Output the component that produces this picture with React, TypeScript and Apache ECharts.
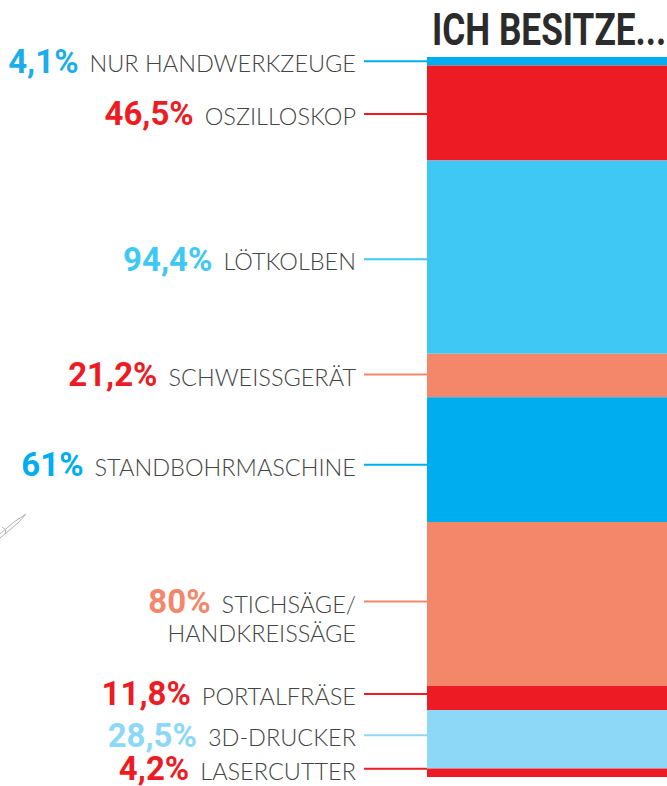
import React, { useEffect, useRef } from "react";
import * as echarts from "echarts";

const categories = [
  "NUR HANDWERKZEUGE",
  "OSZILLOSKOP",
  "LÖTKOLBEN",
  "SCHWEISSGERÄT",
  "STANDBOHRMASCHINE",
  "STICHSÄGE/\nHANDKREISSÄGE",
  "PORTALFRÄSE",
  "3D-DRUCKER",
  "LASERCUTTER",
];
const values = [4.1, 46.5, 94.4, 21.2, 61, 80, 11.8, 28.5, 4.2];
const valueLabels = ["4,1%", "46,5%", "94,4%", "21,2%", "61%", "80%", "11,8%", "28,5%", "4,2%"];
const barColors = ["#00AEEF", "#ED1C24", "#40C8F4", "#F4876A", "#00AEEF", "#F4876A", "#ED1C24", "#8DD7F7", "#ED1C24"];
const pctColors = ["#1BAEEA", "#ED1C24", "#40C8F4", "#ED1C24", "#00AEEF", "#F4876A", "#ED1C24", "#8DD7F7", "#ED1C24"];
const labelShift = [0, 1, 2, -1, 5, 15, -4, -4, -4];

const PCT_FONT = 'Roboto, sans-serif';
const TXT_FONT = 'Lato, Roboto, sans-serif';

export default function App() {
  const ref = useRef<HTMLDivElement>(null);
  useEffect(() => {
    if (!ref.current) return;
    const chart = echarts.init(ref.current, null, { renderer: "svg" });
    const total = values.reduce((a, b) => a + b, 0);
    const series = values.map((v, i) => {
      const lines = categories[i].split("\n");
      const first = `{p|${valueLabels[i]}}{s|}{t|${lines[0]}}{g|}{l|}`;
      const rest = lines.slice(1).map((ln) => `{t2|${ln}}{g|}{e|}`);
      return {
        type: "bar",
        name: categories[i],
        stack: "all",
        barWidth: "100%",
        barCategoryGap: 0,
        itemStyle: { color: barColors[i] },
        data: [v],
        label: {
          show: true,
          position: "left",
          distance: 0,
          offset: [0, labelShift[i]],
          formatter: [first, ...rest].join("\n"),
          rich: {
            p: {
              fontFamily: PCT_FONT,
              fontWeight: "bold",
              fontSize: 33,
              color: pctColors[i],
              align: "right",
              verticalAlign: "middle",
              lineHeight: 24,
            },
            s: { width: 11, align: "right", height: 2 },
            t: {
              fontFamily: TXT_FONT,
              fontWeight: 300,
              fontSize: 23.5,
              color: "#444444",
              align: "right",
              verticalAlign: "middle",
              lineHeight: 22,
              padding: [4, 0, 0, 0],
            },
            t2: {
              fontFamily: TXT_FONT,
              fontWeight: 300,
              fontSize: 23.5,
              color: "#444444",
              align: "right",
              verticalAlign: "middle",
              lineHeight: 35,
              padding: [4, 0, 0, 0],
            },
            g: { width: 8, align: "right", height: 2 },
            l: { width: 63, height: 2, backgroundColor: barColors[i], align: "right", verticalAlign: "middle" },
            e: { width: 63, height: 2, align: "right" },
          },
        },
      };
    });
    chart.setOption({
      animation: false,
      grid: { left: 427, right: 0, top: 57, bottom: 9, containLabel: false },
      xAxis: { type: "category", data: ["Besitz"], show: false },
      yAxis: { type: "value", inverse: true, min: 0, max: total, show: false },
      graphic: [
        {
          type: "text",
          x: 432,
          y: 8,
          scaleX: 0.8,
          style: {
            text: "ICH BESITZE...",
            fontFamily: "Roboto, sans-serif",
            fontWeight: "bold",
            fontSize: 44,
            fill: "#2b2b2b",
          },
        },
        {
          type: "polyline",
          shape: { points: [[0, 534], [14, 522], [26, 514], [18, 523], [0, 538]] },
          style: { stroke: "#b0b0b0", fill: "none", lineWidth: 1 },
        },
        {
          type: "polyline",
          shape: { points: [[2, 527], [6, 530], [5, 534]] },
          style: { stroke: "#b0b0b0", fill: "none", lineWidth: 1 },
        },
      ],
      series,
    });
    return () => chart.dispose();
  }, []);
  return <div ref={ref} style={{ width: 667, height: 786, position: "absolute", left: 0, top: 0 }} />;
}
